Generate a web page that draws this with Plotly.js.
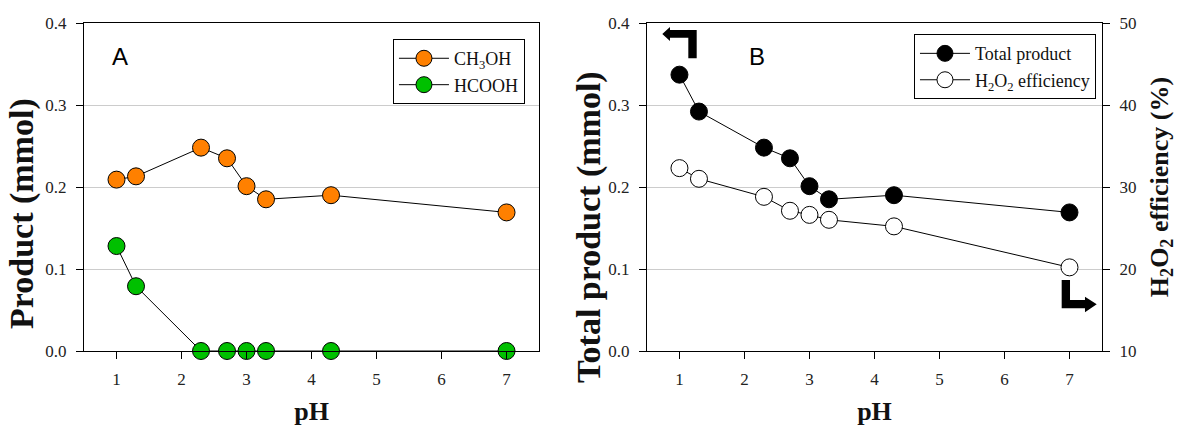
<!DOCTYPE html>
<html><head><meta charset="utf-8">
<script src="https://cdn.plot.ly/plotly-3.0.1.min.js"></script>
<style>
html,body{margin:0;padding:0;background:#fff}
#chart .xtick text, #chart .ytick text, #chart .x2tick text, #chart .y2tick text, #chart .y3tick text{font-family:'Liberation Serif','Times New Roman',serif !important}
</style>
</head><body><div id="chart" style="width:1177px;height:426px"></div>
<script>
// ---- data ----
const pH = [1, 1.3, 2.3, 2.7, 3.0, 3.3, 4.3, 7];
const ch3oh = [0.209, 0.213, 0.248, 0.235, 0.201, 0.185, 0.190, 0.169];
const hcooh = [0.128, 0.079, 0, 0, 0, 0, 0, 0];
const totalProduct = [0.337, 0.292, 0.248, 0.235, 0.201, 0.185, 0.190, 0.169];
const h2o2Efficiency = [32.3, 31.0, 28.8, 27.1, 26.6, 26.0, 25.2, 20.2];
const pHTicks = [1, 2, 3, 4, 5, 6, 7];
const productTicks = [0, 0.1, 0.2, 0.3, 0.4];
const productTickText = ['0.0', '0.1', '0.2', '0.3', '0.4'];
const effTicks = [10, 20, 30, 40, 50];
const seriesNames = ['CH<sub>3</sub>OH', 'HCOOH', 'Total product', 'H<sub>2</sub>O<sub>2</sub> efficiency'];

const SERIF = 'Liberation Serif';
const SANS = 'Liberation Sans, Arial, sans-serif';
const mk = (fill) => ({size: 17, color: fill, line: {color: '#000', width: 1}});
const ln = () => ({color: '#000', width: 1});

const traces = [
  {x: pH, y: ch3oh, name: seriesNames[0], mode: 'lines+markers', line: ln(), marker: mk('#FF8000'),
   xaxis: 'x', yaxis: 'y', legend: 'legend'},
  {x: pH, y: hcooh, name: seriesNames[1], mode: 'lines+markers', line: ln(), marker: mk('#00C000'),
   xaxis: 'x', yaxis: 'y', legend: 'legend', cliponaxis: false},
  {x: pH, y: totalProduct, name: seriesNames[2], mode: 'lines+markers', line: ln(), marker: mk('#000000'),
   xaxis: 'x2', yaxis: 'y2', legend: 'legend2'},
  {x: pH, y: h2o2Efficiency, name: seriesNames[3], mode: 'lines+markers', line: ln(), marker: mk('#FFFFFF'),
   xaxis: 'x2', yaxis: 'y3', legend: 'legend2'}
];

const tickFont = () => ({family: SERIF, size: 17, color: '#222'});
const titleFont = (s) => ({family: SERIF, size: s, color: '#111', weight: 'bold'});

const xBase = () => ({
  range: [0.5, 7.5], tickvals: pHTicks, ticks: 'outside', ticklen: 7, tickcolor: '#000',
  showline: true, linecolor: '#000', linewidth: 1, mirror: true, showgrid: false, zeroline: false,
  tickfont: tickFont(), ticklabelstandoff: 6,
  title: {text: '<b>pH</b>', font: titleFont(26), standoff: 14}
});
const yBase = () => ({
  range: [0, 0.4], tickvals: productTicks, ticktext: productTickText, ticks: 'outside', ticklen: 7,
  tickcolor: '#000', showline: true, linecolor: '#000', linewidth: 1, zeroline: false,
  showgrid: true, gridcolor: '#cccccc', gridwidth: 1, tickfont: tickFont(), ticklabelstandoff: 6
});

// pixel -> domain helper for decorative arrows in panel B
const L = 84, R = 75, T = 23, B = 75, W = 1177, H = 426;
const pw = W - L - R, ph = H - T - B;
const x2d = [0.553, 1.0];
function px2(xp) { const a = L + x2d[0] * pw, b = L + x2d[1] * pw; return (xp - a) / (b - a); }
function py2(yp) { return (H - B - yp) / ph; }
function pathOf(pts) { return 'M' + pts.map(p => px2(p[0]).toFixed(4) + ',' + py2(p[1]).toFixed(4)).join(' L') + ' Z'; }
const paperX = (xp) => (xp - L) / pw;
const paperY = (yp) => (H - B - yp) / ph;

const arrowLeft = [[662.3, 34], [670, 27], [670, 30], [696.7, 30], [696.7, 58.3], [688.3, 58.3], [688.3, 37.7], [670, 37.7], [670, 41]];
const arrowRight = [[1061.7, 280], [1070, 280], [1070, 300], [1085, 300], [1085, 296.7], [1096.7, 304.3], [1085, 312.3], [1085, 308.3], [1061.7, 308.3]];

const legendBase = (x, y) => ({x: x, y: y, xanchor: 'left', yanchor: 'top', bgcolor: '#fff',
  bordercolor: '#000', borderwidth: 1, font: {family: SERIF, size: 18, color: '#111'},
  itemwidth: 50, itemclick: false});

const layout = {
  width: W, height: H, margin: {l: L, r: R, t: T, b: B},
  font: {family: SERIF, color: '#111'},
  paper_bgcolor: '#fff', plot_bgcolor: '#fff', showlegend: true,
  xaxis: Object.assign(xBase(), {domain: [0, 0.447], anchor: 'y'}),
  yaxis: Object.assign(yBase(), {anchor: 'x', mirror: true}),
  xaxis2: Object.assign(xBase(), {domain: x2d, anchor: 'y2'}),
  yaxis2: Object.assign(yBase(), {anchor: 'x2'}),
  yaxis3: {range: [10, 50], tickvals: effTicks, overlaying: 'y2', side: 'right', anchor: 'x2',
    ticks: 'outside', ticklen: 7, tickcolor: '#000', showline: true, linecolor: '#000', linewidth: 1,
    showgrid: false, zeroline: false, tickfont: tickFont(), ticklabelstandoff: 6,
    title: {text: '<b>H<sub>2</sub>O<sub>2</sub> efficiency (%)</b>', font: titleFont(26), standoff: 14}},
  legend: legendBase(0.3035, 0.951),
  legend2: legendBase(0.8153, 0.966),
  annotations: [
    {text: '<b>Product (mmol)</b>', xref: 'paper', yref: 'paper', x: paperX(22), y: paperY(214),
     xanchor: 'center', yanchor: 'middle', textangle: -90, showarrow: false, font: titleFont(34)},
    {text: '<b>Total product (mmol)</b>', xref: 'paper', yref: 'paper', x: paperX(589), y: paperY(227),
     xanchor: 'center', yanchor: 'middle', textangle: -90, showarrow: false, font: titleFont(34)},
    {text: 'A', xref: 'x domain', yref: 'y domain', x: 0.080, y: 0.897, xanchor: 'center', yanchor: 'middle',
     showarrow: false, font: {family: SANS, size: 24, color: '#000'}},
    {text: 'B', xref: 'x2 domain', yref: 'y2 domain', x: 0.242, y: 0.897, xanchor: 'center', yanchor: 'middle',
     showarrow: false, font: {family: SANS, size: 24, color: '#000'}}
  ],
  shapes: [
    {type: 'path', xref: 'x2 domain', yref: 'y2 domain', path: pathOf(arrowLeft), fillcolor: '#000', line: {width: 0}},
    {type: 'path', xref: 'x2 domain', yref: 'y2 domain', path: pathOf(arrowRight), fillcolor: '#000', line: {width: 0}}
  ]
};

Plotly.newPlot('chart', traces, layout, {staticPlot: true, displayModeBar: false});
</script></body></html>
